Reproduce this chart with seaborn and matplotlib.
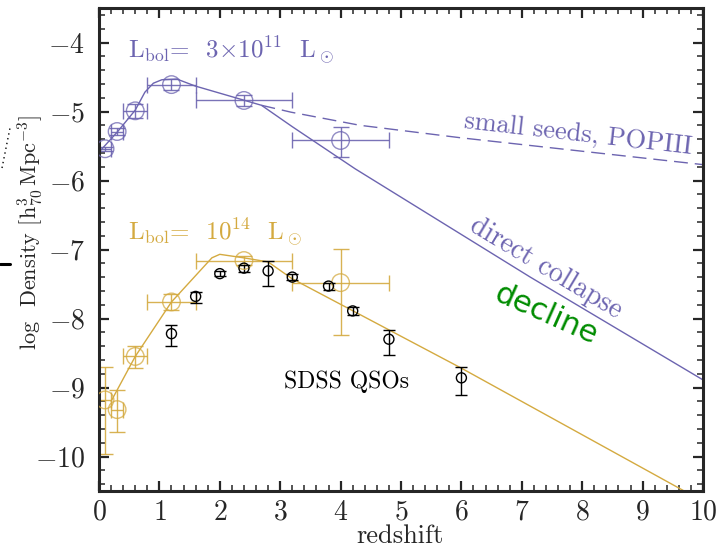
import numpy as np
import pandas as pd
import matplotlib
matplotlib.use("Agg")
import matplotlib.pyplot as plt
from matplotlib.lines import Line2D
from matplotlib.ticker import MultipleLocator
import seaborn as sns

# ---------------- data ----------------
# Observed densities, L_bol = 3e11 Lsun (purple)
purple_z = [0.1, 0.3, 0.6, 1.2, 2.4, 4.0]
purple_y = [-5.54, -5.29, -4.99, -4.61, -4.84, -5.42]
purple_xerr = [0.1, 0.1, 0.2, 0.4, 0.8, 0.8]
purple_yerr_lo = [0.03, 0.05, 0.10, 0.08, 0.08, 0.24]
purple_yerr_hi = [0.03, 0.05, 0.10, 0.08, 0.08, 0.20]

# Observed densities, L_bol = 1e14 Lsun (gold)
gold_z = [0.1, 0.3, 0.6, 1.2, 2.4, 4.0]
gold_y = [-9.18, -9.32, -8.55, -7.76, -7.16, -7.48]
gold_xerr = [0.1, 0.1, 0.2, 0.4, 0.8, 0.8]
gold_yerr_lo = [0.78, 0.33, 0.17, 0.12, 0.07, 0.76]
gold_yerr_hi = [0.48, 0.28, 0.15, 0.12, 0.07, 0.49]

# SDSS QSOs (black)
sdss_z = [1.2, 1.6, 2.0, 2.4, 2.8, 3.2, 3.8, 4.2, 4.8, 6.0]
sdss_y = [-8.22, -7.68, -7.35, -7.27, -7.31, -7.40, -7.53, -7.89, -8.30, -8.86]
sdss_err_lo = [0.18, 0.10, 0.04, 0.05, 0.22, 0.04, 0.05, 0.06, 0.23, 0.25]
sdss_err_hi = [0.12, 0.07, 0.04, 0.05, 0.15, 0.04, 0.05, 0.06, 0.14, 0.15]

# Model curves
dc_z = [0.03, 0.3, 0.6, 0.76, 0.9, 1.04, 1.29, 1.59, 2.69, 3.2, 4.24, 7.14, 10.0]
dc_y = [-5.56, -5.30, -4.98, -4.72, -4.59, -4.54, -4.53, -4.63, -4.91, -5.22, -5.83, -7.40, -8.89]
seeds_z = [2.69, 3.18, 4.32, 5.98, 10.0]
seeds_y = [-4.91, -5.01, -5.20, -5.38, -5.77]
gold_model_z = [0.2, 0.6, 1.2, 1.87, 2.0, 2.39, 2.8, 3.19, 6.0, 10.0]
gold_model_y = [-9.2, -8.55, -7.76, -7.12, -7.07, -7.12, -7.18, -7.42, -8.72, -10.65]

PURPLE = "#6c64b0"
GOLD = "#d4aa40"
GREEN = "#008c00"

# ---------------- style ----------------
sns.set_style("ticks")
plt.rcParams["font.family"] = ["cmr10", "DejaVu Serif"]
plt.rcParams["mathtext.fontset"] = "cm"
plt.rcParams["axes.formatter.use_mathtext"] = True
plt.rcParams["axes.unicode_minus"] = True

fig = plt.figure(figsize=(7.22, 5.49), dpi=100)
ax = fig.add_axes([99 / 722, 58 / 549, 604 / 722, 483 / 549])

# model lines
sns.lineplot(x=dc_z, y=dc_y, ax=ax, color=PURPLE, lw=1.0, sort=False, estimator=None)
sns.lineplot(x=seeds_z, y=seeds_y, ax=ax, color=PURPLE, lw=1.0, sort=False,
             estimator=None, dashes=False, linestyle=(0, (10, 5)))
sns.lineplot(x=gold_model_z, y=gold_model_y, ax=ax, color=GOLD, lw=1.0, sort=False, estimator=None)

# error bars
ax.errorbar(purple_z, purple_y, xerr=purple_xerr, yerr=[purple_yerr_lo, purple_yerr_hi],
            fmt="none", ecolor=PURPLE, elinewidth=1.0, capsize=6, capthick=1.0, alpha=0.9)
ax.errorbar(gold_z, gold_y, xerr=gold_xerr, yerr=[gold_yerr_lo, gold_yerr_hi],
            fmt="none", ecolor=GOLD, elinewidth=1.0, capsize=6, capthick=1.0, alpha=0.9)
ax.errorbar(sdss_z, sdss_y, yerr=[sdss_err_lo, sdss_err_hi],
            fmt="none", ecolor="black", elinewidth=1.0, capsize=4, capthick=1.0)

# markers
sns.scatterplot(x=purple_z, y=purple_y, ax=ax, marker="o", s=160,
                facecolor="none", edgecolor=PURPLE, linewidth=1.0, alpha=0.75, zorder=3)
sns.scatterplot(x=gold_z, y=gold_y, ax=ax, marker="o", s=160,
                facecolor="none", edgecolor=GOLD, linewidth=1.0, alpha=0.75, zorder=3)
sns.scatterplot(x=sdss_z, y=sdss_y, ax=ax, marker="o", s=52,
                facecolor="none", edgecolor="black", linewidth=1.0, zorder=3)

# axes
ax.set_xlim(0, 10)
ax.set_ylim(-10.5, -3.5)
ax.xaxis.set_major_locator(MultipleLocator(1))
ax.xaxis.set_minor_locator(MultipleLocator(0.2))
ax.yaxis.set_major_locator(MultipleLocator(1))
ax.yaxis.set_minor_locator(MultipleLocator(0.2))
ax.tick_params(which="both", direction="in", top=True, right=True, labelsize=20)
ax.tick_params(which="major", length=7.5, width=1.6)
ax.tick_params(which="minor", length=4, width=1.1)
ax.tick_params(axis="x", pad=6)
ax.tick_params(axis="y", pad=10)
for sp in ax.spines.values():
    sp.set_linewidth(2.2)
    sp.set_visible(True)

ax.set_xlabel("redshift", fontsize=19, va="bottom")
ax.set_ylabel(r"log  Density $[{\rm h^3_{70}\,Mpc^{-3}}]$", fontsize=16)
ax.xaxis.set_label_coords(0.498, -0.1175)
ax.yaxis.set_label_coords(-0.090, 0.536)

# annotations
ax.text(0.48, -4.24, r"L$_{\rm bol}$=  3$\times$10$^{11}$  L$_\odot$", color=PURPLE,
        fontsize=18, ha="left", va="baseline")
ax.text(0.48, -6.88, r"L$_{\rm bol}$=  10$^{14}$  L$_\odot$", color=GOLD,
        fontsize=18, ha="left", va="baseline")
ax.text(7.93, -5.33, "small seeds, POPIII", color=PURPLE, fontsize=19,
        rotation=-6.5, ha="center", va="center", rotation_mode="anchor")
ax.text(7.40, -7.27, "direct collapse", color=PURPLE, fontsize=20,
        rotation=-31, ha="center", va="center", rotation_mode="anchor")
ax.text(7.40, -7.94, "decline", color=GREEN, fontsize=22, family="DejaVu Sans",
        rotation=-24, ha="center", va="center", rotation_mode="anchor")
ax.text(4.09, -8.92, "SDSS QSOs", color="black", fontsize=17, ha="center", va="center")

# fragments of the neighbouring panel at the left edge
fig.add_artist(Line2D([0, 10 / 722], [1 - 264 / 549, 1 - 264 / 549],
                      transform=fig.transFigure, color="black", lw=2.2))
fig.add_artist(Line2D([2 / 722, 10 / 722], [1 - 168 / 549, 1 - 128 / 549],
                      transform=fig.transFigure, color="black", lw=1.0, ls=(0, (1, 2.5))))

fig.savefig("out.png", dpi=100)
